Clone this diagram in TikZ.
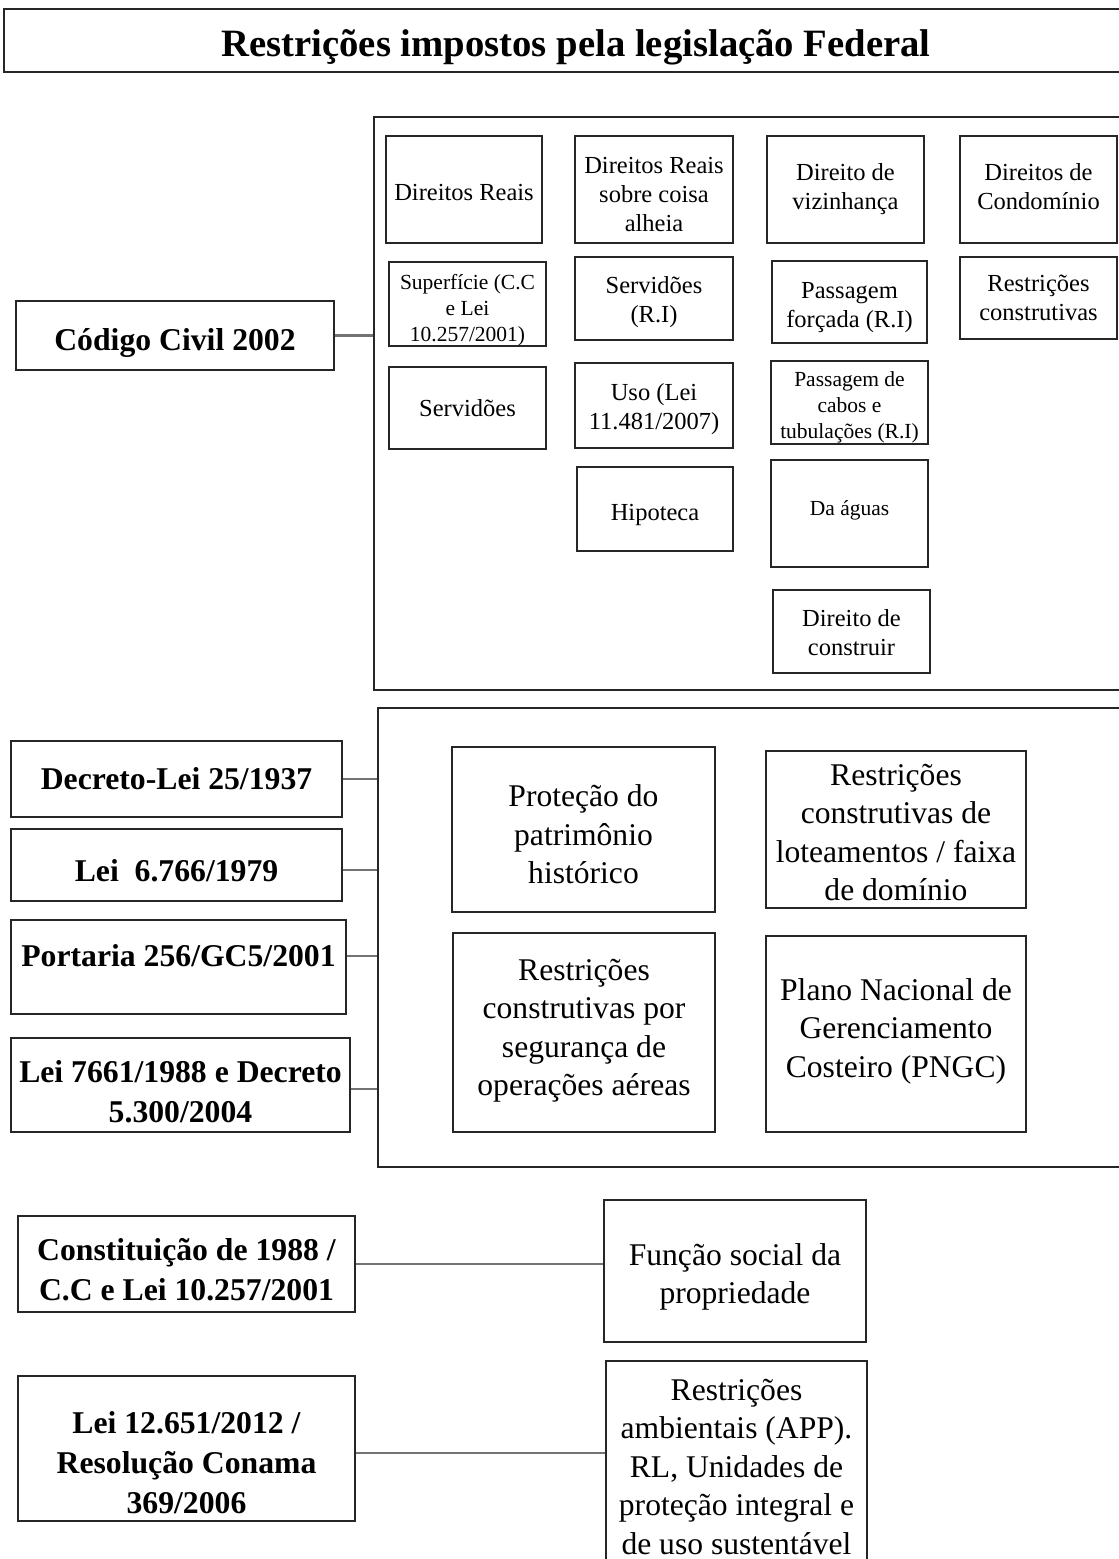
\documentclass[tikz,border=0pt]{standalone}
\usepackage{fontspec}
\setmainfont{Liberation Serif}
\newcommand{\setfs}[2]{\fontsize{#1}{#2}\selectfont}
% box given by its corners (x1,y1) (x2,y2), y measured downwards;
% its text is set as a separate node, lowered by #7
\newcommand{\bx}[8]{%
  \node[#6, minimum width={#4-#2}, minimum height={#5-#3}]
    (#1) at ({(#2+#4)/2},{(#3+#5)/2}) {};
  \node[#6, draw=none] (#1T) at ([yshift={-1pt*(#7)}]#1.center) {#8};}
\tikzset{
  box/.style={draw=black!85, line width=1.8pt, inner sep=0pt, align=center},
  small/.style={box, font=\setfs{24.5}{29}},
  tight/.style={box, font=\setfs{21.5}{26}},
  large/.style={box, font=\setfs{31.6}{38.5}},
  law/.style={box, font=\bfseries\setfs{31.7}{40}},
  frame/.style={draw=black!85, line width=1.8pt, inner sep=0pt},
  heading/.style={box, font=\bfseries\setfs{38.7}{46}},
  conn/.style={draw=black!55, line width=2.6pt},
}
\begin{document}
\begin{tikzpicture}[x=1pt, y=-1pt]
\useasboundingbox (0,0) rectangle (1119,1559);

% heading
\bx{title}{4}{9}{1148}{72}{heading}{7}{Restrições impostos pela legislação Federal}

% ---- Código Civil ----
\bx{cc}{16}{301}{334}{370}{law}{7}{Código Civil 2002}
\node[frame, minimum width=748, minimum height=573] (fa) at (748,403.5) {};

\bx{dr}{386}{136}{542}{243}{small}{3}{Direitos Reais}
\bx{drsca}{575}{136}{733}{243}{small}{5}{Direitos Reais\\sobre coisa\\alheia}
\bx{viz}{767}{136}{924}{243}{small}{0}{Direito de\\vizinhança}
\bx{cond}{960}{136}{1117}{243}{small}{-3}{Direitos de\\Condomínio}

\bx{sup}{389}{262}{546}{346}{tight}{6}{Superfície (C.C\\e Lei\\10.257/2001)}
\bx{servri}{575}{257}{733}{340}{small}{4}{Servidões\\(R.I)}
\bx{passf}{772}{261}{927}{343}{small}{6}{Passagem\\forçada (R.I)}
\bx{rconst}{960}{257}{1117}{339}{small}{0}{Restrições\\construtivas}

\bx{serv}{389}{367}{546}{449}{small}{0}{Servidões}
\bx{uso}{575}{363}{733}{448}{small}{4}{Uso (Lei\\11.481/2007)}
\bx{cabos}{771}{361}{928}{444}{tight}{5}{Passagem de\\cabos e\\tubulações (R.I)}

\bx{hip}{577}{467}{733}{551}{small}{6}{Hipoteca}
\bx{aguas}{771}{460}{928}{567}{tight}{-3}{Da águas}
\bx{constr}{773}{590}{930}{673}{small}{1}{Direito de\\construir}

\draw[conn] (cc.east) -- (cc.east -| fa.west);

% ---- legislação específica ----
\node[frame, minimum width=744, minimum height=459] (fb) at (750,937.5) {};
\bx{dl}{11}{741}{342}{817}{law}{0}{Decreto-Lei 25/1937}
\bx{l6}{11}{829}{342}{901}{law}{6}{Lei\ \ 6.766/1979}
\bx{port}{11}{920}{346}{1014}{law}{-11}{Portaria 256/GC5/2001}
\bx{l7}{11}{1038}{350}{1132}{law}{7}{Lei 7661/1988 e Decreto\\5.300/2004}

\bx{prot}{452}{747}{715}{912}{large}{5}{Proteção do\\patrimônio\\histórico}
\bx{lot}{766}{751}{1026}{908}{large}{3}{Restrições\\construtivas de\\loteamentos / faixa\\de domínio}
\bx{seg}{453}{933}{715}{1132}{large}{-2}{Restrições\\construtivas por\\segurança de\\operações aéreas}
\bx{pngc}{766}{936}{1026}{1132}{large}{-3}{Plano Nacional de\\Gerenciamento\\Costeiro (PNGC)}

\coordinate (pdl) at (dl.east);
\coordinate (pl6) at ([yshift=-5pt]l6.east);
\coordinate (pport) at ([yshift=11pt]port.east);
\coordinate (pl7) at ([yshift=-4pt]l7.east);
\draw[conn] (pdl) -- (pdl -| fb.west);
\draw[conn] (pl6) -- (pl6 -| fb.west);
\draw[conn] (pport) -- (pport -| fb.west);
\draw[conn] (pl7) -- (pl7 -| fb.west);

% ---- função social e restrições ambientais ----
\bx{const}{18}{1216}{355}{1312}{law}{6}{Constituição de 1988 /\\C.C e Lei 10.257/2001}
\bx{func}{604}{1200}{866}{1342}{large}{6}{Função social da\\propriedade}
\bx{l12}{18}{1376}{355}{1521}{law}{14}{Lei 12.651/2012 /\\Resolução Conama\\369/2006}
\bx{amb}{606}{1361}{867}{1572}{large}{0}{Restrições\\ambientais (APP).\\RL, Unidades de\\proteção integral e\\de uso sustentável}

\draw[conn] (const.east) -- (const.east -| func.west);
\coordinate (pl12) at ([yshift=-4.5pt]l12.east);
\draw[conn] (pl12) -- (pl12 -| amb.west);
\end{tikzpicture}
\end{document}
